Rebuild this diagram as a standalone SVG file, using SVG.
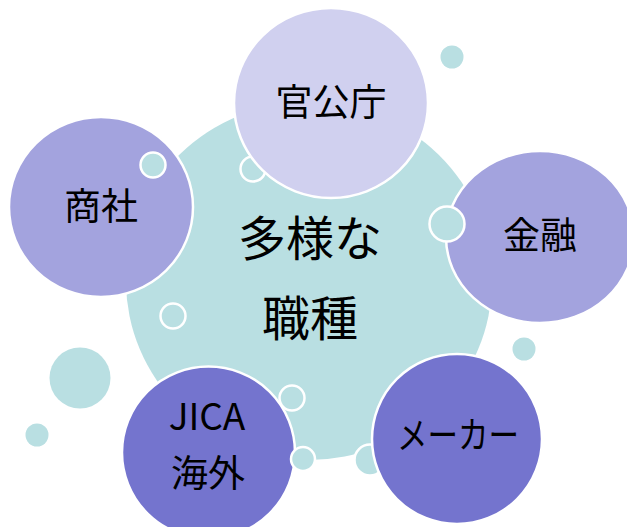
<svg xmlns="http://www.w3.org/2000/svg" width="627" height="527" viewBox="0 0 627 527">
<style>
.t{font-family:"Noto Sans CJK JP","Noto Sans",sans-serif;fill:#000;text-anchor:middle}
.s{font-size:37px}
.c{font-size:48px}
.big{stroke:#fff;stroke-width:2.5}
.dot{fill:#B9DFE2}
.ring{fill:#B9DFE2;stroke:#fff;stroke-width:2.5}
</style>
<rect width="627" height="527" fill="#fff"/>
<g id="center">
<ellipse cx="309" cy="281" rx="183" ry="179" fill="#B9DFE2"/>
</g>
<g id="bubbles-back">
<circle class="dot" cx="452" cy="57" r="11.5"/>
<circle class="dot" cx="80" cy="378" r="30.5"/>
<circle class="dot" cx="37" cy="435" r="11.5"/>
<circle class="dot" cx="524" cy="349" r="11.5"/>
<circle class="ring" cx="253" cy="169" r="12.5"/>
<circle class="ring" cx="173" cy="316" r="12.5"/>
<circle class="ring" cx="370" cy="460" r="15.5"/>
<circle class="ring" cx="292" cy="398" r="12.5"/>
</g>
<g id="node-kankocho">
<ellipse class="big" cx="331" cy="103" rx="97" ry="95" fill="#D0D0EF"/>
<text class="t s" x="331" y="116">官公庁</text>
</g>
<g id="node-shosha">
<ellipse class="big" cx="101" cy="207" rx="92" ry="90" fill="#A3A3DE"/>
<text class="t s" x="101" y="220">商社</text>
</g>
<g id="node-kinyu">
<ellipse class="big" cx="540" cy="237" rx="94" ry="86" fill="#A3A3DE"/>
<text class="t s" x="540" y="249">金融</text>
</g>
<g id="node-maker">
<ellipse class="big" cx="457" cy="439" rx="85" ry="85" fill="#7474CE"/>
<text class="t s" x="458" y="449" textLength="122" lengthAdjust="spacingAndGlyphs">メーカー</text>
</g>
<g id="node-jica">
<ellipse class="big" cx="208.5" cy="452.5" rx="86.5" ry="86" fill="#7474CE"/>
<text class="t s" x="207" y="430">JICA</text>
<text class="t s" x="208" y="487">海外</text>
</g>
<g id="bubbles-front">
<circle class="ring" cx="153" cy="165" r="12.5"/>
<circle class="ring" cx="447" cy="224" r="17.5"/>
<circle class="ring" cx="303" cy="459" r="12"/>
</g>
<g id="center-label">
<text class="t c" x="310" y="256">多様な</text>
<text class="t c" x="310" y="336">職種</text>
</g>
<g id="connectors"></g>
</svg>
